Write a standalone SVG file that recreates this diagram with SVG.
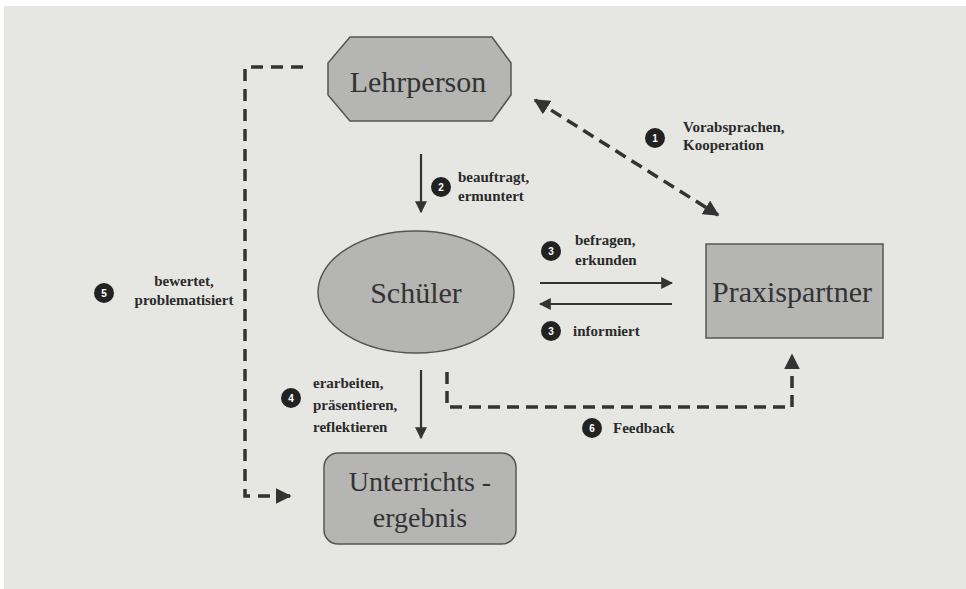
<svg xmlns="http://www.w3.org/2000/svg" width="966" height="589" viewBox="0 0 966 589">
<defs>
<marker id="ah" viewBox="0 0 10 10" refX="9" refY="5" markerWidth="12" markerHeight="12" markerUnits="userSpaceOnUse" orient="auto-start-reverse"><path d="M0,0 L10,5 L0,10 z" fill="#333"/></marker>
<marker id="ahb" viewBox="0 0 10 10" refX="9" refY="5" markerWidth="16" markerHeight="16" markerUnits="userSpaceOnUse" orient="auto-start-reverse"><path d="M0,0 L10,5 L0,10 z" fill="#333"/></marker>
</defs>
<style>
.node{fill:#b5b5b3;stroke:#555;stroke-width:1.5}
.nt{font-family:"Liberation Serif","Times New Roman",serif;fill:#333;text-anchor:middle}
.lbl{font-family:"Liberation Serif","Times New Roman",serif;font-size:15px;fill:#2a2a2a;font-weight:bold}
.solid{stroke:#333;stroke-width:2.2;fill:none}
.dash{stroke:#333;stroke-width:3.5;fill:none;stroke-dasharray:12,7}
.badge circle{fill:#222}
.badge text{font-family:"Liberation Sans",sans-serif;font-size:10px;fill:#fff;text-anchor:middle;font-weight:bold}
</style>
<rect width="966" height="589" fill="#fff"/>
<rect x="4" y="6" width="962" height="583" fill="#e6e6e3"/>
<g id="connectors">
<line class="solid" x1="421" y1="154" x2="421" y2="212" marker-end="url(#ah)"/>
<line class="dash" x1="535" y1="100" x2="718" y2="215" marker-start="url(#ahb)" marker-end="url(#ahb)"/>
<line class="solid" x1="540" y1="283" x2="672" y2="283" marker-end="url(#ah)"/>
<line class="solid" x1="672" y1="304" x2="540" y2="304" marker-end="url(#ah)"/>
<line class="solid" x1="421" y1="370" x2="421" y2="438" marker-end="url(#ah)"/>
<polyline class="dash" points="303,67 245,67 245,496 290,496" marker-end="url(#ahb)" style="stroke-dasharray:12,8"/>
<polyline class="dash" points="447,372 447,407 792,407 792,355" marker-end="url(#ahb)"/>
</g>
<g id="lehrperson">
<polygon class="node" points="350,37 492,37 511,63 511,95 492,121 350,121 328,95 328,63"/>
<text class="nt" x="418" y="92" font-size="30">Lehrperson</text>
</g>
<g id="schueler">
<ellipse class="node" cx="416" cy="292" rx="98" ry="61"/>
<text class="nt" x="416" y="303" font-size="30">Schüler</text>
</g>
<g id="praxispartner">
<rect class="node" x="706" y="244" width="177" height="94"/>
<text class="nt" x="792" y="302" font-size="30">Praxispartner</text>
</g>
<g id="unterrichtsergebnis">
<rect class="node" x="324" y="453" width="192" height="91" rx="14"/>
<text class="nt" x="420" y="491" font-size="28">Unterrichts -</text>
<text class="nt" x="420" y="527" font-size="28">ergebnis</text>
</g>
<g id="labels">
<g class="badge"><circle cx="655" cy="138" r="10"/><text x="655" y="142">1</text></g>
<text class="lbl" x="683" y="132">Vorabsprachen,</text>
<text class="lbl" x="683" y="150">Kooperation</text>
<g class="badge"><circle cx="441" cy="187" r="10"/><text x="441" y="191">2</text></g>
<text class="lbl" x="458" y="182">beauftragt,</text>
<text class="lbl" x="458" y="201">ermuntert</text>
<g class="badge"><circle cx="551" cy="251" r="10"/><text x="551" y="255">3</text></g>
<text class="lbl" x="575" y="245">befragen,</text>
<text class="lbl" x="575" y="265">erkunden</text>
<g class="badge"><circle cx="551" cy="331" r="10"/><text x="551" y="335">3</text></g>
<text class="lbl" x="573" y="336">informiert</text>
<g class="badge"><circle cx="104" cy="293" r="10"/><text x="104" y="297">5</text></g>
<text class="lbl" x="184" y="286" text-anchor="middle">bewertet,</text>
<text class="lbl" x="184" y="305" text-anchor="middle">problematisiert</text>
<g class="badge"><circle cx="291" cy="398" r="10"/><text x="291" y="402">4</text></g>
<text class="lbl" x="313" y="388">erarbeiten,</text>
<text class="lbl" x="313" y="410">präsentieren,</text>
<text class="lbl" x="313" y="432">reflektieren</text>
<g class="badge"><circle cx="592" cy="428" r="10"/><text x="592" y="432">6</text></g>
<text class="lbl" x="613" y="433">Feedback</text>
</g>
</svg>
